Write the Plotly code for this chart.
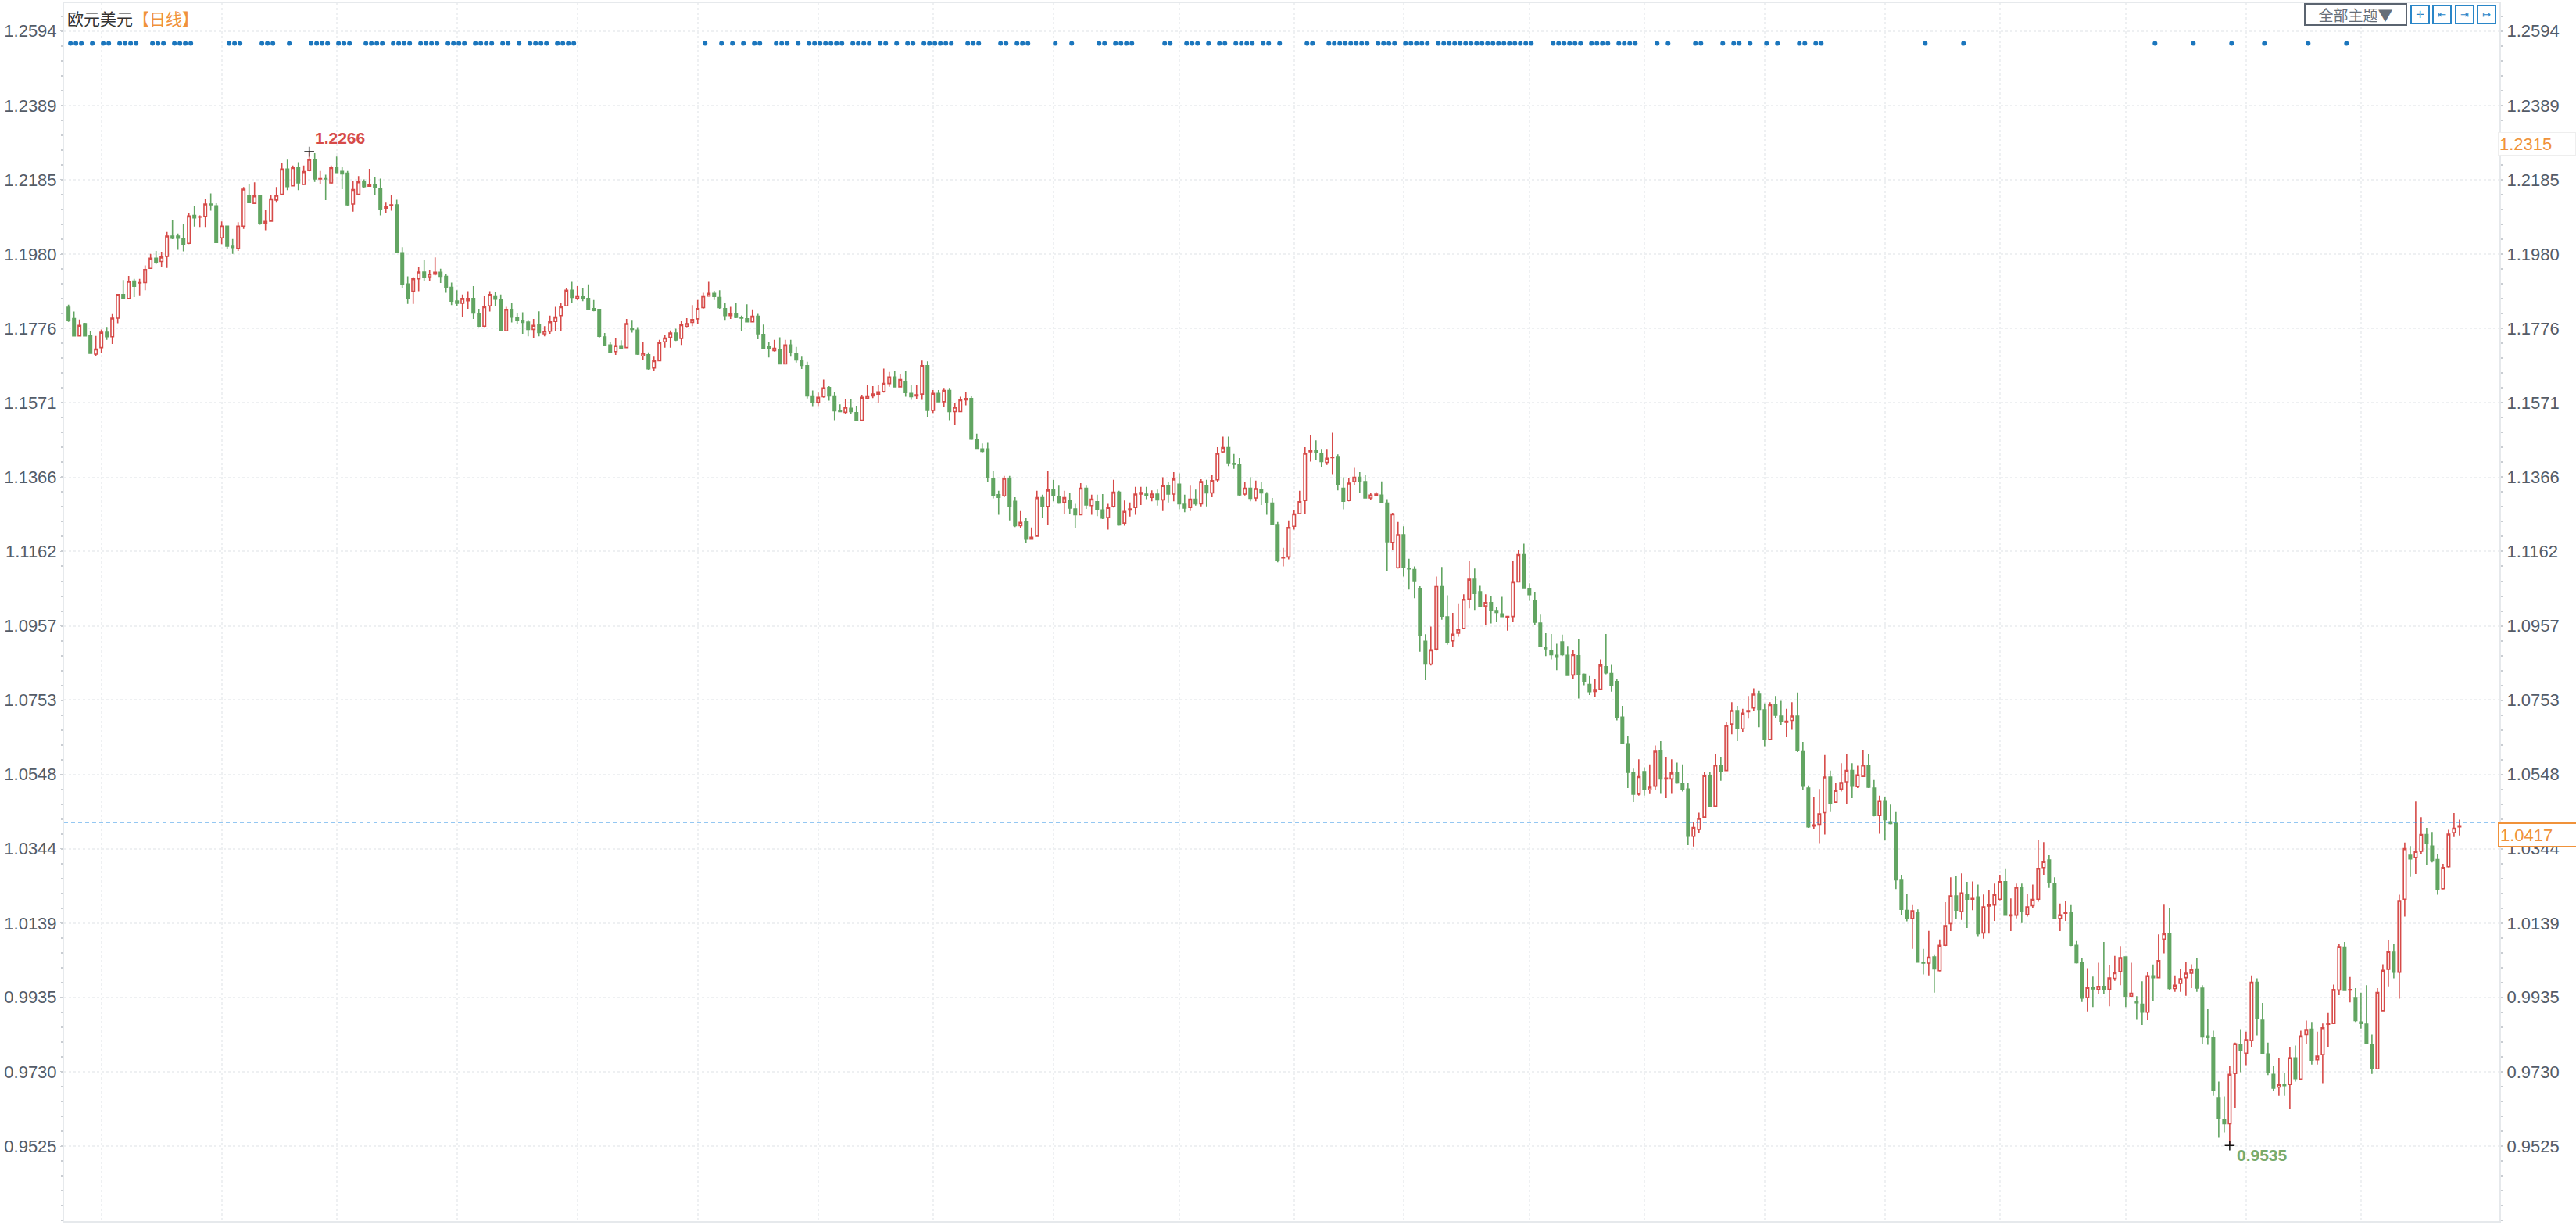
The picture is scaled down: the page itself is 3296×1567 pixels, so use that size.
import plotly.graph_objects as go

TICK_LABELS = ["1.2594","1.2389","1.2185","1.1980","1.1776","1.1571","1.1366","1.1162","1.0957","1.0753","1.0548","1.0344","1.0139","0.9935","0.9730","0.9525"]
TITLE_NAME = "欧元美元"
TITLE_PERIOD = "【日线】"
LAST_PRICE = 1.0417
REF_PRICE = 1.2315
HIGH_LABEL = "1.2266"
LOW_LABEL = "0.9535"
HIGH_INDEX = 44
LOW_INDEX = 395

# month boundaries (candle number)
MONTH_STARTS = [6,28,49,71,93,115,137,158,180,203,224,244,267,288,310,332,353,376,398,419]

# 'R' rising (hollow red), 'G' falling (solid green)
DIRECTION = ("GGRGGRRGRR" "GRGRRRGRRG" "GGRGRRGGRG" "GRRGRGRRRR" "GRGRRGRGRG"
             "GGRRGRGGRR" "GGGRRGRRGG" "GGRRGGRRGG" "RGGGGRGRRR" "RRGRGGGGGG"
             "RGRGGRGRRR" "RGRRRRRRGG" "GRGGGRGGGR" "GRGGGGGRRG" "GGRGGRRRRR"
             "RGRGGRRGRG" "RGRRRGGGGG" "GRGGRGRRGR" "GGRGGRGRGG" "RRGRRRRGRG"
             "RGRGGRGRGR" "RRGGGRGRGG" "GGRRRRRRGG" "RRGGRRGGRR" "GGRRGGGGGR"
             "RGGRRRRGGR" "GGGRRRGGGG" "GGGGGRGGGR" "RGGGGGGRGR" "RGRRGGGRRR"
             "GRGRRGRRRG" "GRGGRRGGGR" "RRGRRRGRRG" "GRGGGGGRGG" "RGRRRGRGRG"
             "RRRRGRRGRR" "RRGGRRGGGR" "GRGRRRGRGG" "RGRRGRRRRG" "GGGGGRRGRR"
             "GGGGRGRGRR" "GRRRRRGRGG" "GGRRRGRRGR" "RGGGRRRR")

# prices in 1/10000
HIGH = [
11841,11822,11800,11791,11769,11755,11773,11780,11815,11870,
11909,11920,11912,11912,11949,11981,11989,11987,12041,12075,
12037,12064,12094,12113,12087,12132,12147,12120,12070,12058,
12022,12068,12165,12173,12178,12142,12102,12142,12165,12230,
12240,12224,12233,12224,12262,12258,12209,12199,12224,12249,
12221,12209,12181,12195,12186,12215,12192,12188,12122,12143,
12130,11999,11919,11917,11945,11964,11935,11971,11940,11926,
11902,11881,11869,11878,11892,11830,11865,11878,11876,11869,
11835,11847,11818,11820,11799,11802,11823,11782,11811,11835,
11847,11888,11904,11892,11888,11897,11854,11829,11763,11737,
11748,11743,11802,11799,11779,11737,11710,11698,11744,11759,
11770,11775,11797,11804,11840,11854,11874,11904,11879,11881,
11847,11835,11847,11811,11842,11828,11816,11786,11739,11744,
11751,11744,11744,11725,11698,11684,11605,11599,11635,11617,
11600,11567,11581,11581,11563,11593,11619,11617,11619,11665,
11656,11660,11649,11660,11619,11619,11687,11685,11606,11606,
11612,11612,11570,11588,11600,11590,11486,11459,11461,11382,
11329,11370,11370,11311,11273,11254,11228,11329,11318,11382,
11359,11343,11329,11322,11293,11350,11343,11318,11318,11320,
11293,11359,11329,11302,11297,11340,11340,11340,11330,11332,
11366,11354,11380,11377,11318,11343,11332,11361,11359,11373,
11449,11478,11478,11430,11419,11354,11366,11357,11354,11325,
11309,11243,11172,11247,11276,11329,11449,11482,11468,11444,
11444,11489,11429,11366,11365,11392,11380,11373,11322,11325,
11355,11306,11268,11243,11231,11142,11121,11067,10934,10955,
11093,11119,11041,10993,11019,11044,11135,11115,11069,11044,
11040,11010,11037,10985,11136,11167,11183,11074,11051,10988,
10937,10935,10908,10933,10902,10890,10921,10826,10819,10812,
10865,10935,10850,10812,10737,10654,10564,10590,10568,10576,
10628,10640,10597,10590,10581,10576,10525,10416,10443,10556,
10554,10604,10597,10692,10747,10737,10729,10764,10785,10778,
10744,10747,10764,10751,10729,10747,10774,10638,10518,10485,
10508,10602,10559,10526,10579,10604,10579,10572,10614,10604,
10533,10490,10485,10465,10445,10272,10220,10189,10177,10068,
10118,10053,10094,10197,10265,10268,10276,10253,10254,10245,
10218,10231,10248,10272,10290,10207,10248,10248,10220,10245,
10367,10362,10326,10265,10193,10200,10189,10090,10042,10015,
9992,10030,10087,10023,10049,10076,10047,10030,9938,9979,
10004,10025,10108,10190,10180,9995,10014,10032,10026,10043,
9968,9902,9843,9703,9662,9746,9810,9847,9840,9995,
9987,9919,9810,9746,9768,9727,9799,9802,9843,9871,
9867,9840,9863,9892,9970,10081,10087,9991,9960,9948,
9968,9832,9960,10026,10092,10081,10217,10361,10351,10474,
10431,10401,10390,10330,10302,10396,10442,10424]

BODY_TOP = [
11834,11803,11784,11789,11755,11719,11765,11765,11804,11869,
11869,11905,11906,11902,11938,11969,11969,11972,12030,12030,
12030,12024,12085,12087,12083,12118,12118,12113,12057,12057,
12002,12057,12159,12140,12140,12140,12070,12132,12142,12214,
12214,12218,12218,12207,12241,12241,12188,12188,12218,12218,
12208,12203,12158,12179,12179,12171,12172,12161,12112,12116,
12116,11984,11898,11912,11931,11931,11925,11930,11930,11919,
11889,11851,11858,11858,11858,11817,11835,11869,11865,11854,
11828,11828,11805,11798,11793,11784,11786,11768,11794,11807,
11835,11881,11881,11865,11863,11858,11830,11828,11752,11730,
11728,11728,11789,11775,11771,11707,11703,11687,11737,11749,
11763,11763,11786,11789,11800,11830,11865,11872,11872,11861,
11830,11816,11816,11806,11802,11809,11809,11759,11727,11721,
11718,11730,11730,11707,11687,11673,11590,11586,11612,11613,
11590,11550,11559,11556,11544,11586,11590,11595,11601,11624,
11642,11642,11635,11628,11597,11593,11673,11673,11597,11597,
11605,11605,11559,11579,11583,11583,11471,11444,11444,11363,
11318,11363,11363,11300,11242,11243,11201,11310,11310,11331,
11332,11313,11310,11302,11279,11336,11336,11306,11299,11276,
11283,11325,11325,11272,11279,11320,11324,11320,11320,11320,
11343,11343,11361,11347,11292,11306,11306,11354,11343,11357,
11432,11448,11448,11404,11400,11336,11336,11335,11331,11320,
11295,11236,11145,11228,11265,11299,11432,11439,11441,11432,
11418,11421,11423,11336,11350,11366,11366,11354,11317,11320,
11317,11295,11265,11208,11208,11115,11112,11060,10915,10891,
11067,11067,10982,10934,10948,11030,11085,11085,11051,11021,
11021,10999,10990,10983,11078,11153,11153,11060,11026,10965,
10897,10890,10876,10913,10876,10878,10875,10824,10796,10782,
10849,10845,10826,10804,10706,10631,10553,10542,10556,10513,
10612,10613,10538,10552,10552,10522,10508,10402,10427,10545,
10545,10574,10574,10683,10724,10724,10717,10724,10769,10769,
10726,10740,10740,10709,10695,10709,10709,10611,10511,10409,
10440,10541,10541,10504,10526,10559,10559,10547,10574,10574,
10511,10476,10476,10418,10414,10257,10174,10173,10167,10031,
10045,10046,10078,10132,10214,10214,10222,10218,10207,10211,
10184,10189,10218,10253,10253,10162,10238,10238,10184,10204,
10290,10308,10313,10249,10162,10168,10169,10078,10030,9962,
9962,9965,9965,9988,10002,10044,10046,9946,9923,9916,
9994,9994,10036,10110,10110,9968,9986,10001,10012,10013,
9960,9828,9824,9659,9598,9723,9807,9804,9818,9976,
9976,9872,9779,9723,9695,9695,9768,9768,9828,9846,
9847,9773,9851,9864,9956,10074,10073,9956,9934,9867,
9861,9804,9948,10009,10061,10059,10201,10344,10326,10336,
10383,10383,10351,10314,10292,10384,10400,10407]

BODY_BOTTOM = [
11798,11755,11755,11755,11707,11705,11723,11753,11753,11804,
11859,11858,11892,11901,11902,11941,11957,11960,11974,12024,
12024,12008,12010,12080,12082,12084,12116,12012,12025,12002,
11998,11996,12057,12122,12120,12064,12066,12071,12129,12145,
12166,12168,12176,12172,12210,12187,12187,12187,12176,12205,
12201,12116,12118,12145,12166,12167,12165,12104,12107,12114,
11986,11898,11858,11878,11912,11917,11918,11925,11919,11889,
11851,11845,11845,11852,11818,11782,11782,11838,11856,11769,
11769,11807,11799,11792,11773,11773,11764,11761,11768,11795,
11811,11838,11861,11858,11858,11829,11825,11754,11730,11710,
11712,11721,11723,11773,11705,11700,11665,11667,11687,11739,
11751,11744,11748,11782,11792,11802,11833,11865,11864,11833,
11811,11811,11806,11804,11794,11794,11761,11720,11720,11715,
11678,11678,11710,11689,11674,11590,11572,11572,11588,11590,
11549,11547,11545,11547,11523,11523,11584,11590,11595,11602,
11624,11615,11615,11599,11588,11590,11595,11550,11550,11574,
11574,11547,11547,11547,11579,11471,11446,11437,11365,11315,
11311,11315,11286,11233,11233,11196,11196,11204,11286,11286,
11315,11295,11297,11281,11263,11263,11290,11288,11278,11254,
11255,11286,11235,11240,11276,11283,11320,11315,11311,11304,
11304,11320,11320,11293,11281,11283,11293,11293,11323,11323,
11359,11436,11406,11402,11318,11320,11308,11309,11323,11297,
11236,11138,11144,11147,11231,11266,11302,11436,11434,11409,
11407,11420,11347,11300,11302,11354,11356,11309,11309,11317,
11297,11189,11187,11117,11119,11114,11081,10932,10852,10852,
10893,10984,10912,10916,10937,10950,11031,11046,11012,11012,
11001,10994,10983,10981,10983,11078,11062,11043,10967,10901,
10894,10878,10871,10878,10821,10822,10824,10805,10776,10777,
10783,10828,10794,10706,10633,10554,10494,10494,10506,10506,
10516,10536,10536,10536,10525,10508,10378,10378,10397,10431,
10461,10461,10558,10559,10687,10676,10674,10721,10731,10727,
10645,10645,10711,10694,10692,10697,10614,10516,10404,10406,
10411,10443,10468,10472,10508,10528,10516,10515,10543,10513,
10435,10435,10424,10413,10258,10177,10153,10152,10032,10029,
10029,10013,10008,10078,10138,10175,10171,10205,10205,10110,
10112,10186,10189,10205,10161,10159,10161,10171,10163,10187,
10205,10292,10250,10152,10152,10166,10078,10030,9933,9934,
9958,9956,9956,9957,9987,10006,9938,9938,9920,9894,
9894,9989,9989,10095,9959,9959,9973,9989,10001,9960,
9826,9824,9678,9601,9587,9587,9725,9789,9781,9816,
9877,9781,9729,9685,9688,9692,9695,9711,9710,9832,
9762,9763,9777,9861,9863,9955,9954,9955,9871,9863,
9808,9740,9738,9898,10012,10004,10004,10205,10316,10320,
10337,10358,10310,10232,10234,10294,10388,10404]

LOW = [
11794,11755,11754,11754,11707,11699,11707,11744,11733,11790,
11859,11858,11862,11867,11881,11940,11953,11946,11942,12021,
11992,11988,12008,12056,12053,12053,12100,12012,12008,11994,
11981,11989,12050,12122,12118,12061,12046,12070,12122,12145,
12156,12167,12156,12171,12208,12179,12172,12129,12174,12204,
12159,12114,12097,12142,12161,12166,12142,12087,12092,12100,
11986,11887,11843,11843,11878,11906,11905,11922,11901,11874,
11840,11838,11806,11830,11802,11780,11780,11822,11838,11768,
11768,11792,11789,11761,11754,11750,11754,11754,11761,11768,
11768,11836,11847,11854,11851,11828,11823,11750,11728,11707,
11703,11718,11723,11764,11703,11689,11662,11660,11685,11723,
11723,11741,11730,11779,11782,11789,11830,11864,11854,11830,
11799,11802,11804,11768,11793,11793,11746,11718,11696,11712,
11677,11677,11698,11682,11664,11583,11562,11562,11585,11577,
11523,11545,11540,11541,11520,11522,11581,11584,11570,11599,
11615,11613,11613,11588,11579,11581,11579,11531,11543,11572,
11559,11523,11509,11545,11564,11469,11444,11432,11354,11308,
11263,11311,11247,11229,11226,11185,11194,11202,11254,11236,
11300,11293,11266,11266,11226,11261,11279,11263,11259,11251,
11222,11283,11233,11233,11258,11263,11290,11306,11300,11288,
11273,11297,11300,11278,11270,11273,11288,11286,11286,11311,
11352,11434,11397,11389,11315,11316,11300,11300,11290,11263,
11235,11132,11121,11140,11222,11265,11266,11409,11414,11393,
11400,11375,11330,11278,11300,11345,11322,11308,11304,11315,
11295,11107,11167,11115,11093,11057,11033,10886,10808,10848,
10889,10974,10905,10900,10927,10948,11005,11001,11009,10960,
10964,10967,10981,10944,10967,11076,11060,11026,10960,10900,
10874,10865,10835,10874,10819,10810,10757,10794,10767,10762,
10781,10824,10776,10697,10633,10511,10472,10490,10490,10494,
10506,10495,10483,10495,10523,10501,10354,10350,10388,10429,
10460,10460,10531,10558,10659,10640,10664,10702,10722,10678,
10626,10644,10704,10685,10651,10671,10610,10506,10401,10397,
10359,10383,10445,10471,10501,10468,10483,10511,10542,10511,
10433,10385,10366,10411,10233,10161,10144,10068,10031,9998,
9995,9948,10006,10076,10117,10150,10148,10126,10175,10103,
10096,10110,10145,10202,10159,10117,10152,10139,10157,10182,
10198,10272,10236,10152,10117,10145,10076,10028,9922,9896,
9908,9945,9945,9910,9980,9968,9908,9936,9873,9859,
9872,9924,9987,10056,9956,9950,9950,9939,9960,9950,
9807,9804,9664,9548,9563,9527,9631,9729,9748,9799,
9830,9781,9721,9676,9664,9664,9628,9703,9709,9807,
9750,9750,9699,9799,9861,9941,9952,9921,9867,9849,
9807,9724,9737,9896,9965,9987,9931,10157,10266,10274,
10328,10300,10306,10217,10232,10292,10376,10380]

SIGNAL_DAYS = [0,1,2,4,6,7,9,10,11,12,15,16,17,19,20,21,22,29,30,31,35,36,37,40,44,45,46,47,49,50,51,
54,55,56,57,59,60,61,62,64,65,66,67,69,70,71,72,74,75,76,77,79,80,82,84,85,86,87,89,90,91,92,
116,119,121,123,125,126,129,130,131,133,135,136,137,138,139,140,141,143,144,145,146,148,149,151,153,154,
156,157,158,159,160,161,164,165,166,170,171,173,174,175,180,183,188,189,191,192,193,194,200,201,204,205,206,208,
210,211,213,214,215,216,218,219,221,226,227,230,231,232,233,234,235,236,237,239,240,241,242,244,245,246,247,248,
250,251,252,253,254,255,256,257,258,259,260,261,262,263,264,265,266,267,271,272,273,274,275,276,278,279,280,281,
283,284,285,286,290,292,297,298,302,304,305,307,310,312,316,317,319,320,339,346,381,388,395,401,409,416]
SIGNAL_LEVEL = 1.2560
SIGNAL_SHIFT = 0.35

RED = "#d64a48"
GREEN = "#62a562"
ORANGE = "#f0923a"
BLUE = "#1b76bd"
AXIS_TEXT = "#545c68"
GRID = "#eef0f2"

Y_RANGE = [0.9319, 1.2671]
X_RANGE = [-0.81, 444.3]

n = len(HIGH)
xs = list(range(n))
highs = [v / 10000 for v in HIGH]
lows = [v / 10000 for v in LOW]
tops = [v / 10000 for v in BODY_TOP]
bottoms = [v / 10000 for v in BODY_BOTTOM]
opens = [b if d == "R" else t for d, t, b in zip(DIRECTION, tops, bottoms)]
closes = [t if d == "R" else b for d, t, b in zip(DIRECTION, tops, bottoms)]
tick_values = [float(t) for t in TICK_LABELS]

fig = go.Figure()
fig.add_trace(go.Candlestick(
    x=xs, open=opens, high=highs, low=lows, close=closes, whiskerwidth=0,
    increasing=dict(line=dict(color=RED, width=1.6), fillcolor="#ffffff"),
    decreasing=dict(line=dict(color=GREEN, width=1.6), fillcolor=GREEN),
    showlegend=False, hoverinfo="skip"))
fig.add_trace(go.Scatter(
    x=[d + SIGNAL_SHIFT for d in SIGNAL_DAYS], y=[SIGNAL_LEVEL] * len(SIGNAL_DAYS),
    mode="markers", marker=dict(color=BLUE, size=6, symbol="circle"),
    showlegend=False, hoverinfo="skip"))
fig.add_trace(go.Scatter(
    x=[HIGH_INDEX, LOW_INDEX], y=[highs[HIGH_INDEX], lows[LOW_INDEX]],
    mode="markers", marker=dict(symbol="cross-thin", size=9, line=dict(color="#111111", width=1.5)),
    showlegend=False, hoverinfo="skip"))
fig.add_trace(go.Scatter(
    x=X_RANGE, y=[LAST_PRICE, LAST_PRICE], yaxis="y2", mode="lines",
    line=dict(color="#2b8fe6", width=1.5, dash="5px,4px"),
    showlegend=False, hoverinfo="skip"))

axis_font = dict(family="Liberation Sans, Arial, sans-serif", size=22, color=AXIS_TEXT)
common_y = dict(range=Y_RANGE, tickmode="array", tickvals=tick_values, ticktext=TICK_LABELS,
                tickfont=axis_font, ticks="outside", ticklen=3, tickcolor="#c9cdd2", tickwidth=1,
                showline=True, linecolor="#e6e9ec", linewidth=2, zeroline=False, fixedrange=True,
                minor=dict(dtick=0.004092, tick0=0.9525, ticks="outside", ticklen=2,
                           tickcolor="#c9cdd2", tickwidth=2, showgrid=False))

fig.update_layout(
    width=3296, height=1567,
    margin=dict(l=82, r=98, t=2, b=5),
    paper_bgcolor="#ffffff", plot_bgcolor="#ffffff", showlegend=False,
    xaxis=dict(range=X_RANGE, rangeslider=dict(visible=False), tickmode="array",
               tickvals=MONTH_STARTS, showticklabels=False, ticks="",
               showgrid=True, gridcolor=GRID, griddash="dot", gridwidth=1.5,
               showline=True, linecolor="#e6e9ec", linewidth=2, mirror=True, zeroline=False),
    yaxis=dict(side="left", showgrid=True, gridcolor=GRID, griddash="dot", gridwidth=1.5, **common_y),
    yaxis2=dict(side="right", overlaying="y", showgrid=False, **common_y),
)

cjk = "Noto Sans CJK SC, sans-serif"
label_font = "Liberation Sans, Arial, sans-serif"
anns = [
    dict(xref="paper", yref="paper", x=0, xshift=2, y=1, yshift=-2, xanchor="left", yanchor="top",
         text=f"<span style='color:#333333'>{TITLE_NAME}</span><span style='color:{ORANGE}'>{TITLE_PERIOD}</span>",
         showarrow=False, font=dict(family=cjk, size=21)),
    dict(x=HIGH_INDEX, y=highs[HIGH_INDEX], xshift=5, yshift=4, xanchor="left", yanchor="bottom",
         text=f"<b>{HIGH_LABEL}</b>", showarrow=False,
         font=dict(family=label_font, size=21, color=RED)),
    dict(x=LOW_INDEX, y=lows[LOW_INDEX], xshift=7, yshift=1, xanchor="left", yanchor="top",
         text=f"<b>{LOW_LABEL}</b>", showarrow=False,
         font=dict(family=label_font, size=21, color="#79ab6c")),
]
for value, border, bw in [(REF_PRICE, "#eeeeee", 1), (LAST_PRICE, ORANGE, 2)]:
    anns.append(dict(xref="paper", yref="y", x=1, xshift=-2, y=value, xanchor="left", yanchor="top",
                     text=f"{value:.4f}", showarrow=False, align="left", width=96, height=26,
                     bgcolor="#ffffff", bordercolor=border, borderwidth=bw, borderpad=1,
                     font=dict(family=label_font, size=22, color=ORANGE)))
# toolbar
anns.append(dict(xref="paper", yref="paper", x=0.9409, y=1, yshift=0, xanchor="center", yanchor="top",
                 text="全部主题▼", showarrow=False, width=126, height=23, borderwidth=2,
                 bordercolor="#5b6470", bgcolor="#ffffff",
                 font=dict(family=cjk, size=19, color="#666e78")))
for glyph, frac in [("✛", 0.9673), ("⇤", 0.9764), ("⇥", 0.9856), ("↦", 0.9946)]:
    anns.append(dict(xref="paper", yref="paper", x=frac, y=1, yshift=-2, xanchor="center", yanchor="top",
                     text=glyph, showarrow=False, width=19, height=19, borderwidth=2,
                     bordercolor="#2a86c8", bgcolor="#ffffff",
                     font=dict(family="DejaVu Sans", size=13, color="#2a86c8")))
fig.update_layout(annotations=anns)

fig.write_html("out.html", config=dict(displayModeBar=False),
               post_script="document.body.style.margin='0';document.documentElement.style.overflow='hidden';")
